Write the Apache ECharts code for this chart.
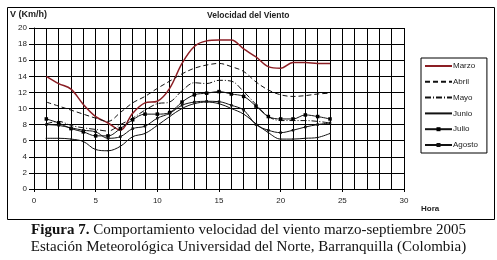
<!DOCTYPE html>
<html>
<head>
<meta charset="utf-8">
<script src="https://cdn.jsdelivr.net/npm/echarts@6/dist/echarts.min.js"></script>
<style>
html,body{margin:0;padding:0;background:#fff}
#chart{width:497px;height:260px}
</style>
</head>
<body>
<div id="chart"></div>
<script>
// horas del día
var hours = [1,2,3,4,5,6,7,8,9,10,11,12,13,14,15,16,17,18,19,20,21,22,23,24];
// velocidad media por hora (km/h)
var marzo  = [14.0,13.1,12.4,10.5,9.0,8.2,7.3,9.4,10.7,10.9,12.5,15.6,17.7,18.4,18.5,18.5,17.4,16.4,15.2,15.0,15.7,15.7,15.6,15.6];
var abril  = [10.8,10.3,9.8,9.3,8.8,8.4,9.5,10.7,11.5,12.5,13.4,14.3,15.0,15.4,15.6,15.2,14.6,13.3,12.3,11.7,11.5,11.6,11.8,11.9];
var mayo   = [8.1,8.4,7.9,7.6,7.4,7.2,8.0,8.8,9.8,10.6,10.8,12.2,13.2,13.1,13.5,13.4,12.1,10.5,9.0,8.5,8.5,8.5,8.4,8.2];
var junio  = [6.3,6.3,6.2,5.9,4.9,4.75,5.3,6.5,6.9,7.9,9.0,10.0,10.6,10.8,10.6,10.0,9.3,8.1,7.0,6.2,6.2,6.3,6.4,6.9];
var julio  = [8.7,8.2,7.5,7.1,6.6,6.6,7.5,8.6,9.3,9.3,9.5,10.8,11.7,11.9,12.1,11.8,11.5,10.3,9.0,8.7,8.7,9.2,9.0,8.7];
var agosto = [8.0,7.9,7.6,7.3,7.1,6.3,6.5,7.5,7.8,8.8,9.4,10.4,10.8,10.9,10.85,10.4,9.8,8.0,7.3,7.0,7.3,7.7,8.0,8.2];
var xTicks = [0,5,10,15,20,25,30];

function pairs(vals){
	var out = [];
	for (var i = 0; i < hours.length; i++) {
		out.push([hours[i], vals[i]]);
	}
	return out;
}

var chart = echarts.init(document.getElementById('chart'));
var ink = '#111';
var noMark = {color: 'rgba(0,0,0,0)', borderWidth: 0};

var option = {
	animation: false,
	backgroundColor: '#fff',
	textStyle: {fontFamily: 'Liberation Sans, Arial, sans-serif'},
	grid: {left: 34, right: 93, top: 28, bottom: 71},
	legend: {
		orient: 'vertical',
		left: 421, top: 58,
		padding: [3, 9, 3, 3],
		itemGap: 5.8,
		itemWidth: 27, itemHeight: 5,
		borderColor: '#000', borderWidth: 1,
		textStyle: {fontSize: 8, color: '#222', lineHeight: 10, padding: [0, 0, 0, -4]},
		data: [
			{name: 'Marzo', itemStyle: noMark},
			{name: 'Abril', itemStyle: noMark},
			{name: 'Mayo', itemStyle: noMark},
			{name: 'Junio', itemStyle: noMark},
			{name: 'Julio'},
			{name: 'Agosto'}
		]
	},
	xAxis: {
		type: 'value', min: 0, max: 30, interval: 5,
		axisLine: {lineStyle: {color: '#000', width: 1}},
		axisTick: {show: true, length: 3, lineStyle: {color: '#000'}},
		axisLabel: {fontSize: 8, color: '#222', margin: 8,
			formatter: function(v){ return xTicks.indexOf(v) >= 0 ? String(v) : ''; }},
		splitLine: {show: true, lineStyle: {color: '#000', width: 1}},
		minorTick: {show: false, splitNumber: 5},
		minorSplitLine: {show: true, lineStyle: {color: '#000', width: 1}}
	},
	yAxis: {
		type: 'value', min: 0, max: 20, interval: 2,
		axisLine: {show: true, lineStyle: {color: '#000', width: 1}},
		axisTick: {show: true, length: 5, lineStyle: {color: '#000'}},
		axisLabel: {fontSize: 8, color: '#222', margin: 7},
		splitLine: {show: true, lineStyle: {color: '#000', width: 1}}
	},
	series: [
		{name: 'Marzo', type: 'line', data: pairs(marzo), smooth: 0.35, symbol: 'none',
			color: '#8b1e24', lineStyle: {color: '#8b1e24', width: 1.5}},
		{name: 'Abril', type: 'line', data: pairs(abril), smooth: 0.35, symbol: 'none',
			color: ink, lineStyle: {color: ink, width: 1, type: [5, 3]}},
		{name: 'Mayo', type: 'line', data: pairs(mayo), smooth: 0.35, symbol: 'none',
			color: ink, lineStyle: {color: ink, width: 1, type: [6, 2, 1, 2]}},
		{name: 'Junio', type: 'line', data: pairs(junio), smooth: 0.35, symbol: 'circle', symbolSize: 1.5,
			color: ink, itemStyle: {color: ink}, lineStyle: {color: ink, width: 1}},
		{name: 'Julio', type: 'line', data: pairs(julio), smooth: 0.35, symbol: 'rect', symbolSize: 3.5,
			color: ink, itemStyle: {color: '#000'}, lineStyle: {color: ink, width: 1}},
		{name: 'Agosto', type: 'line', data: pairs(agosto), smooth: 0.35, symbol: 'rect', symbolSize: 2.5,
			color: ink, itemStyle: {color: ink}, lineStyle: {color: ink, width: 1}}
	],
	graphic: [
		{type: 'rect', left: 5, top: 5, silent: true,
			shape: {width: 487, height: 212},
			style: {fill: 'none', stroke: '#000', lineWidth: 1}},
		{type: 'text', left: 10, top: 10,
			style: {text: 'V (Km/h)', font: 'bold 9px "Liberation Sans", Arial, sans-serif', fill: '#222'}},
		{type: 'text', left: 207, top: 11,
			style: {text: 'Velocidad del Viento', font: 'bold 8.5px "Liberation Sans", Arial, sans-serif', fill: '#222'}},
		{type: 'text', left: 421, top: 205,
			style: {text: 'Hora', font: 'bold 8px "Liberation Sans", Arial, sans-serif', fill: '#222'}},
		{type: 'text', left: 'center', top: 223,
			style: {
				text: '{b|Figura 7.} Comportamiento velocidad del viento marzo-septiembre 2005',
				font: '15px "Liberation Serif", serif', fill: '#111',
				rich: {b: {font: 'bold 15px "Liberation Serif", serif', fill: '#111'}}
			}},
		{type: 'text', left: 'center', top: 240,
			style: {text: 'Estación Meteorológica Universidad del Norte, Barranquilla (Colombia)',
				font: '15px "Liberation Serif", serif', fill: '#111'}}
	]
};
chart.setOption(option);
</script>
</body>
</html>
